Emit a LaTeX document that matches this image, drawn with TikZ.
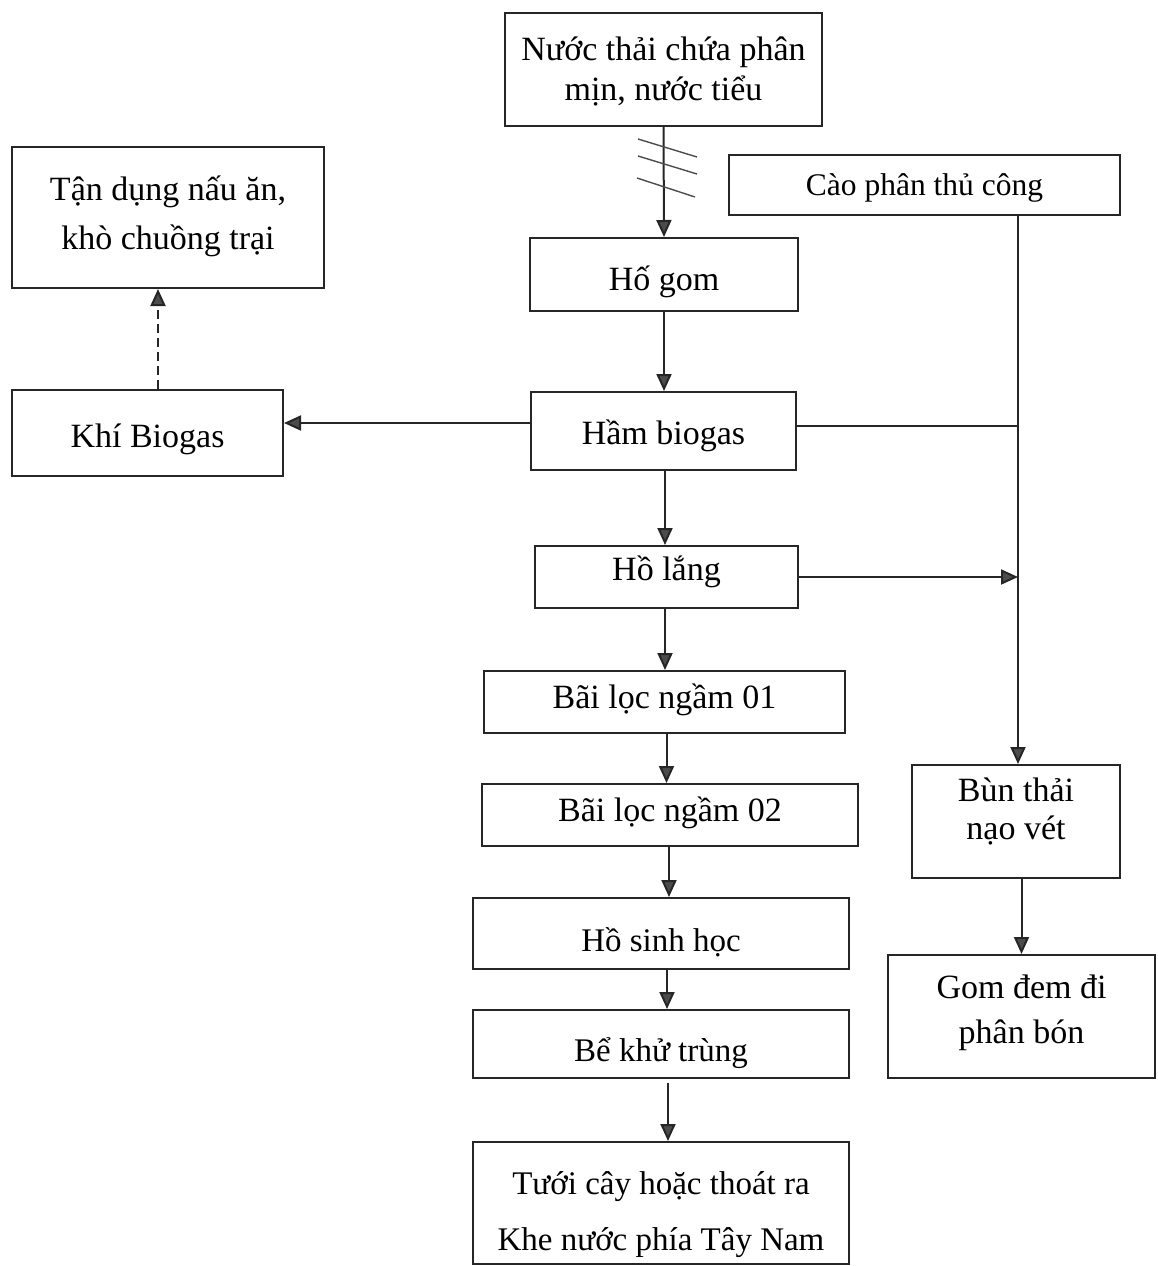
\documentclass[tikz,border=0pt]{standalone}
\usepackage{fontspec}
\setmainfont{Liberation Serif}
\usetikzlibrary{arrows.meta}
\newcommand\shtxt[2]{\raisebox{#1}[\height][\depth]{#2}}
\newcommand\mltxt[2]{\raisebox{#1}[\height][\depth]{\begin{tabular}{@{}c@{}}#2\end{tabular}}}
\tikzset{
  box/.style={draw=black!85, line width=2pt, inner sep=0pt, align=center, font=\fontsize{34}{40}\selectfont},
  arr/.style={draw=black!85, line width=2pt, -{Triangle[length=17pt,width=15pt,fill=black!70]}},
  ln/.style={draw=black!85, line width=2pt},
  hatch/.style={draw=black!70, line width=1.4pt}
}
\begin{document}
\begin{tikzpicture}[x=1pt,y=-1pt]
\useasboundingbox (0,0) rectangle (1157,1266);
\node[box, minimum width=317, minimum height=113] (n1) at (663.5,69.5) {\mltxt{-3pt}{Nước thải chứa phân\\mịn, nước tiểu}};
\node[box, minimum width=391, minimum height=60, font=\fontsize{31.5}{38}\selectfont] (cao) at (924.5,185) {\shtxt{-3pt}{Cào phân thủ công}};
\node[box, minimum width=312, minimum height=141] (tan) at (168,217.5) {\mltxt{1pt}{Tận dụng nấu ăn,\\[9pt]khò chuồng trại}};
\node[box, minimum width=268, minimum height=73] (hogom) at (664,274.5) {\shtxt{-7pt}{Hố gom}};
\node[box, minimum width=271, minimum height=86] (khi) at (147.5,433) {\shtxt{-6pt}{Khí Biogas}};
\node[box, minimum width=265, minimum height=78] (ham) at (663.5,431) {\shtxt{-5pt}{Hầm biogas}};
\node[box, minimum width=263, minimum height=62] (holang) at (666.5,577) {\shtxt{5pt}{Hồ lắng}};
\node[box, minimum width=361, minimum height=62] (bai1) at (664.5,702) {\shtxt{2pt}{Bãi lọc ngầm 01}};
\node[box, minimum width=376, minimum height=62] (bai2) at (670,815) {\shtxt{2pt}{Bãi lọc ngầm 02}};
\node[box, minimum width=376, minimum height=71, font=\fontsize{33}{40}\selectfont] (hosinh) at (661,933.5) {\shtxt{-9pt}{Hồ sinh học}};
\node[box, minimum width=376, minimum height=68, font=\fontsize{33}{40}\selectfont] (be) at (661,1044) {\shtxt{-9pt}{Bể khử trùng}};
\node[box, minimum width=376, minimum height=122, font=\fontsize{33}{40}\selectfont] (tuoi) at (661,1203) {\mltxt{-11pt}{Tưới cây hoặc thoát ra\\[16pt]Khe nước phía Tây Nam}};
\node[box, minimum width=208, minimum height=113] (bun) at (1016,821.5) {\mltxt{9pt}{Bùn thải\\[-2pt]nạo vét}};
\node[box, minimum width=267, minimum height=123] (gom) at (1021.5,1016.5) {\mltxt{4pt}{Gom đem đi\\[5pt]phân bón}};

% main vertical flow
\draw[arr] (n1.south) -- (hogom.north);
\draw[hatch] (638,139) -- (697,157);
\draw[hatch] (638,156) -- (697,174);
\draw[hatch] (637,178) -- (695,197);
\draw[arr] (hogom.south) -- (hogom.south |- ham.north);
\draw[arr] ([xshift=1.5pt]ham.south) -- ([xshift=1.5pt]ham.south |- holang.north);
\draw[arr] ([xshift=-1.5pt]holang.south) -- ([xshift=-1.5pt]holang.south |- bai1.north);
\draw[arr] (holang.south |- bai1.south) -- (holang.south |- bai2.north);
\draw[arr] ([xshift=-1pt]bai2.south) -- ([xshift=-1pt]bai2.south |- hosinh.north);
\draw[arr] ([xshift=6pt]hosinh.south) -- ([xshift=6pt]hosinh.south |- be.north);
\draw[arr] ([xshift=7pt,yshift=-4pt]be.south) -- ([xshift=7pt]be.south |- tuoi.north);

% biogas
\draw[arr] (ham.west |- 0,423) -- (khi.east |- 0,423);
\draw[arr, dash pattern=on 9pt off 5pt] ([xshift=10.5pt]khi.north) -- ([xshift=10.5pt]khi.north |- tan.south);

% sludge branch
\coordinate (J) at (1018,426);
\draw[ln] (cao.south -| J) -- (J);
\draw[ln] (ham.east |- J) -- (J);
\draw[arr] (J) -- (J |- bun.north);
\draw[arr] (holang.east) -- (holang.east -| J);
\draw[arr] (gom.north |- bun.south) -- (gom.north);
\end{tikzpicture}
\end{document}
